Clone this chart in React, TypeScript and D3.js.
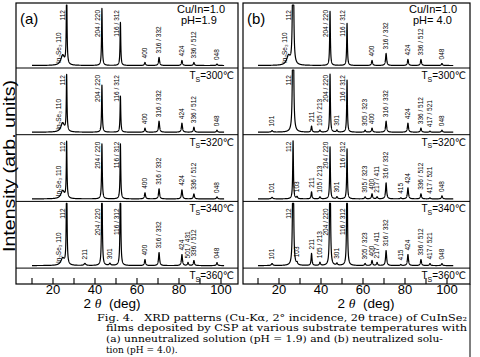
import React from "react";
import * as d3 from "d3";

const W = 480;
const H = 357;

const TEMPS = [300, 320, 340, 360];
const TICKS = [10, 20, 30, 40, 50, 60, 70, 80, 90, 100];
const TICK_LABELS = [20, 40, 60, 80, 100];

// Peaks: [2θ (deg), intensity (arb.), HWHM (deg)]
// Panel (a): unneutralized solution, pH = 1.9
const A300 = [[24.6, 10, 1.0], [26.5, 80, 0.2], [43.3, 57, 0.2], [52.1, 43, 0.2], [63.8, 3, 0.3], [70.5, 8, 0.3], [81.4, 5, 0.3], [87.1, 3, 0.3], [98.1, 1.5, 0.3]];
const A320 = [[24.6, 9, 1.0], [26.5, 56, 0.2], [43.3, 47, 0.2], [52.1, 36, 0.2], [63.8, 4, 0.3], [70.5, 11, 0.3], [81.4, 9, 0.3], [87.1, 5, 0.3], [98.1, 2, 0.3]];
const A340 = [[24.6, 8, 1.0], [26.5, 56, 0.2], [43.3, 55, 0.2], [52.1, 55, 0.2], [63.8, 6, 0.3], [70.5, 10, 0.3], [81.4, 9, 0.3], [87.1, 5, 0.3], [98.1, 2, 0.3]];
const A360 = [[24.6, 7, 1.0], [26.5, 100, 0.2], [35.2, 2, 0.5], [43.3, 100, 0.2], [47.1, 2, 0.4], [52.1, 100, 0.2], [63.8, 6, 0.3], [70.5, 13, 0.3], [81.4, 11, 0.3], [84.3, 3, 0.3], [87.1, 5, 0.3], [98.1, 3, 0.3]];

const A300_L = [[24.6, "In₂Se₃ 110"], [26.5, "112"], [43.3, "204 / 220"], [52.1, "116 / 312"], [63.8, "400"], [70.5, "316 / 332"], [81.4, "424"], [87.1, "336 / 512"], [98.1, "048"]];
const A320_L = [[24.6, "In₂Se₃ 110"], [26.5, "112"], [43.3, "204 / 220"], [52.1, "116 / 312"], [63.8, "400"], [70.5, "316 / 332"], [81.4, "424"], [87.1, "336 / 512"], [98.1, "048"]];
const A340_L = [[24.6, "In₂Se₃ 110"], [26.5, "112"], [43.3, "204 / 220"], [52.1, "116 / 312"], [63.8, "400"], [70.5, "316 / 332"], [81.4, "424"], [87.1, "336 / 512"], [98.1, "048"]];
const A360_L = [[24.6, "In₂Se₃ 110"], [26.5, "112"], [35.2, "211"], [43.3, "204 / 220"], [47.1, "301"], [52.1, "116 / 312"], [63.8, "400"], [70.5, "316 / 332"], [81.4, "424"], [84.3, "501 / 431"], [87.1, "336 / 512"], [98.1, "048"]];

// Panel (b): neutralized solution, pH = 4.0
const B300 = [[24.5, 9, 1.0], [26.7, 250, 0.2], [44.3, 54, 0.2], [52.4, 42, 0.2], [64.3, 5, 0.3], [71.0, 12, 0.3], [81.4, 6, 0.3], [87.6, 6, 0.3], [97.6, 2, 0.3]];
const B320 = [[16.7, 1.5, 0.4], [26.7, 250, 0.2], [35.5, 6, 0.25], [39.5, 2, 0.3], [44.3, 58, 0.2], [47.6, 2, 0.3], [52.4, 52, 0.2], [61.0, 2, 0.3], [64.3, 4, 0.3], [71.0, 11, 0.3], [81.4, 9, 0.3], [87.6, 4, 0.3], [91.9, 1, 0.3], [97.6, 2, 0.3]];
const B340 = [[16.7, 1.5, 0.4], [26.7, 58, 0.2], [28.6, 2, 0.3], [35.5, 7, 0.25], [39.5, 2, 0.3], [44.3, 52, 0.2], [47.6, 2, 0.3], [52.4, 50, 0.2], [61.0, 2, 0.3], [64.3, 5, 0.3], [66.7, 2, 0.3], [71.0, 16, 0.3], [78.0, 1, 0.3], [81.4, 11, 0.3], [87.6, 5, 0.3], [91.9, 1, 0.3], [97.6, 3, 0.3]];
const B360 = [[16.7, 2, 0.4], [26.7, 200, 0.2], [28.6, 2, 0.3], [35.5, 12, 0.25], [39.5, 3, 0.3], [44.3, 150, 0.2], [47.6, 2, 0.3], [52.4, 120, 0.2], [61.0, 2, 0.3], [64.3, 5, 0.3], [66.7, 3, 0.3], [71.0, 15, 0.3], [78.0, 1, 0.3], [81.4, 11, 0.3], [87.6, 6, 0.3], [91.9, 2, 0.3], [97.6, 2, 0.3]];

const B300_L = [[24.5, "In₂Se₃ 110"], [26.7, "112"], [44.3, "204 / 220"], [52.4, "116 / 312"], [64.3, "400"], [71.0, "316 / 332"], [81.4, "424"], [87.6, "336 / 512"], [97.6, "048"]];
const B320_L = [[16.7, "101"], [26.7, "112"], [35.5, "211"], [39.5, "105 / 213"], [44.3, "204 / 220"], [47.6, "301"], [52.4, "116 / 312"], [61.0, "305 / 323"], [64.3, "400"], [71.0, "316 / 332"], [81.4, "424"], [87.6, "336 / 512"], [91.9, "417 / 521"], [97.6, "048"]];
const B340_L = [[16.7, "101"], [26.7, "112"], [28.6, "103"], [35.5, "211"], [39.5, "105 / 213"], [44.3, "204 / 220"], [47.6, "301"], [52.4, "116 / 312"], [61.0, "305 / 323"], [64.3, "400"], [66.7, "217 / 411"], [71.0, "316 / 332"], [78.0, "415"], [81.4, "424"], [87.6, "336 / 512"], [91.9, "417 / 521"], [97.6, "048"]];
const B360_L = [[16.7, "101"], [26.7, "112"], [28.6, "103"], [35.5, "211"], [39.5, "105 / 213"], [44.3, "204 / 220"], [47.6, "301"], [52.4, "116 / 312"], [61.0, "305 / 323"], [64.3, "400"], [66.7, "217 / 411"], [71.0, "316 / 332"], [78.0, "415"], [81.4, "424"], [87.6, "336 / 512"], [91.9, "417 / 521"], [97.6, "048"]];

const CAPTION = [
  "Fig. 4.   XRD patterns (Cu-Kα, 2° incidence, 2θ trace) of CuInSe₂",
  "films deposited by CSP at various substrate temperatures with",
  "(a) unneutralized solution (pH = 1.9) and (b) neutralized solu-",
  "tion (pH = 4.0).",
];

const SANS = "'Liberation Sans', Arial, 'DejaVu Sans', sans-serif";
const SERIF = "'Liberation Serif', 'Times New Roman', 'DejaVu Serif', serif";
const CAP_SERIF = "'DejaVu Serif', 'Liberation Serif', serif";

const FRAME_TOP = 3;
const FRAME_BOTTOM = 284;
const sepY = (i: number) => 68 + i * 66.7;

function profile(peaks: number[][], th: number) {
  return d3.sum(peaks, ([c, h, w]) => h / (1 + ((th - c) / w) ** 2));
}

type PanelProps = {
  left: number;
  right: number;
  r10: number;
  r100: number;
  traces: number[][][];
  labels: (number | string)[][][];
  letter: string;
  ratio: string;
  ph: string;
  titleX: number;
  start: number;
  end: number;
};

function Panel(p: PanelProps) {
  const x = d3.scaleLinear().domain([10, 100]).range([p.r10, p.r100]);
  return (
    <g>
      <rect x={p.left} y={FRAME_TOP} width={p.right - p.left} height={FRAME_BOTTOM - FRAME_TOP} fill="none" stroke="#000" strokeWidth={1.2} />
      {TEMPS.map((t, i) => {
        const top = i === 0 ? FRAME_TOP : sepY(i - 1);
        const base = sepY(i) - 2.5;
        const cap = base - (top + 2);
        const y = d3.scaleLinear().domain([0, 100]).range([base, base - 100]);
        const peaks = p.traces[i];
        const grid = d3.range(p.start, p.end, 0.03).concat(peaks.map((q) => q[0])).sort((a, b) => a - b);
        const pts = grid.map((th) => [th, Math.min(profile(peaks, th), cap)] as [number, number]);
        const line = d3.line<[number, number]>().x((d) => x(d[0])).y((d) => y(d[1]));
        return (
          <g key={t}>
            <line x1={p.left} x2={p.right} y1={sepY(i)} y2={sepY(i)} stroke="#000" strokeWidth={1} />
            <path d={line(pts) || ""} fill="none" stroke="#000" strokeWidth={1.2} strokeLinejoin="round" />
            {p.labels[i].map(([th, txt]) => {
              const thn = th as number;
              const s = txt as string;
              const h = Math.min(profile(peaks, thn), cap);
              let lx: number, ly: number, anchor: string;
              if (s.startsWith("In")) {
                lx = x(thn) - 1.5;
                ly = base - 2.5;
                anchor = "start";
              } else if (h >= 30) {
                lx = x(thn) - 1.8;
                ly = top + 7;
                anchor = "end";
              } else {
                lx = x(thn) + 2.3;
                ly = y(h) - 4;
                anchor = "start";
              }
              return (
                <text key={s + thn} transform={`translate(${lx},${ly}) rotate(-90)`} textAnchor={anchor} fontSize={6.5} fontFamily={SANS}>
                  {s}
                </text>
              );
            })}
            <text x={p.right - 4} y={sepY(i) + 11} textAnchor="end" fontSize={10} fontFamily={SANS}>
              T<tspan fontSize={7} dy={2.5}>S</tspan>
              <tspan dy={-2.5}>={t}℃</tspan>
            </text>
          </g>
        );
      })}
      {TICKS.map((t) => (
        <line key={t} x1={x(t)} x2={x(t)} y1={FRAME_BOTTOM} y2={FRAME_BOTTOM - 6} stroke="#000" strokeWidth={1.1} />
      ))}
      {TICK_LABELS.map((t) => (
        <text key={t} x={x(t)} y={293.5} textAnchor="middle" fontSize={13} fontFamily={SANS}>
          {t}
        </text>
      ))}
      <text x={p.titleX} y={307.5} textAnchor="middle" fontSize={13.5} fontFamily={SANS} xmlSpace="preserve">
        2 <tspan fontStyle="italic" fontFamily={SERIF}>θ</tspan>  (deg)
      </text>
      <text x={p.left + 4} y={24} fontSize={15} fontFamily={SANS}>
        {p.letter}
      </text>
      <text x={p.right - 61} y={12.5} fontSize={11} fontFamily={SANS}>
        {p.ratio}
      </text>
      <text x={p.right - 57} y={23.5} fontSize={11} fontFamily={SANS}>
        {p.ph}
      </text>
    </g>
  );
}

export default function App() {
  return (
    <svg width={W} height={H} viewBox={`0 0 ${W} ${H}`} style={{ position: "absolute", left: 0, top: 0, background: "#fff" }}>
      <rect x={0} y={0} width={W} height={H} fill="#fff" />
      <Panel left={16} right={238} r10={32} r100={221} traces={[A300, A320, A340, A360]} labels={[A300_L, A320_L, A340_L, A360_L]} letter="(a)" ratio="Cu/In=1.0" ph="pH=1.9" titleX={112} start={10} end={101.5} />
      <Panel left={243} right={470} r10={258} r100={447} traces={[B300, B320, B340, B360]} labels={[B300_L, B320_L, B340_L, B360_L]} letter="(b)" ratio="Cu/In=1.0" ph="pH= 4.0" titleX={366} start={10} end={103} />
      <line x1={470} x2={470} y1={FRAME_BOTTOM} y2={H} stroke="#000" strokeWidth={1} />
      <text transform="translate(15,166) rotate(-90)" textAnchor="middle" fontSize={16} fontFamily={SANS} textLength={172} lengthAdjust="spacingAndGlyphs">
        Intensity (arb. units)
      </text>
      <text x={97} y={320.5} fontSize={9} fontFamily={CAP_SERIF} textLength={370} lengthAdjust="spacingAndGlyphs" xmlSpace="preserve">
        {CAPTION[0]}
      </text>
      <text x={106} y={331} fontSize={9} fontFamily={CAP_SERIF} textLength={361} lengthAdjust="spacingAndGlyphs">
        {CAPTION[1]}
      </text>
      <text x={106} y={342} fontSize={9} fontFamily={CAP_SERIF} textLength={337} lengthAdjust="spacingAndGlyphs">
        {CAPTION[2]}
      </text>
      <text x={106} y={353} fontSize={9} fontFamily={CAP_SERIF}>
        {CAPTION[3]}
      </text>
    </svg>
  );
}
